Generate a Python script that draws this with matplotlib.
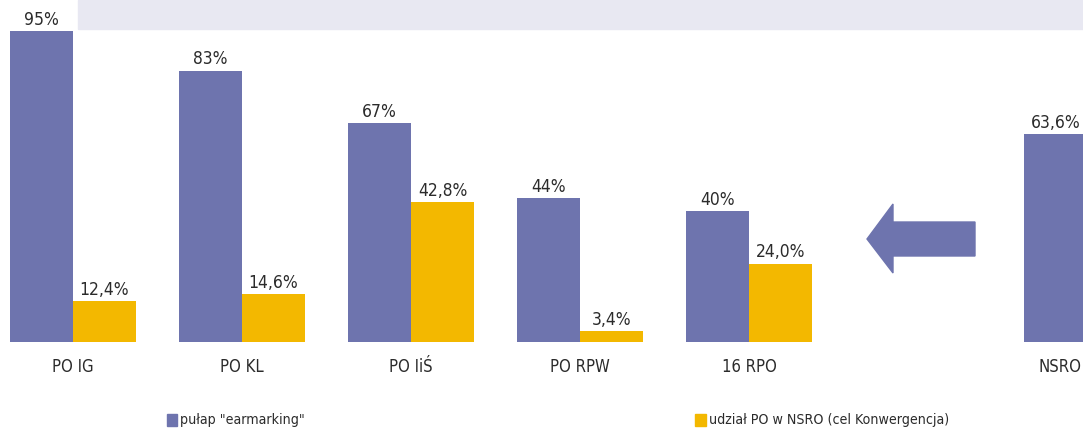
import matplotlib.pyplot as plt
from matplotlib.patches import Rectangle, Polygon
from matplotlib import font_manager

categories = ['PO IG', 'PO KL', 'PO IiŚ', 'PO RPW', '16 RPO']
earmarking = [95, 83, 67, 44, 40]
udzial = [12.4, 14.6, 42.8, 3.4, 24.0]
nsro_label = 'NSRO'
nsro_value = 63.6

# narrow font, the original uses a condensed face
cond = [f for f in font_manager.fontManager.ttflist
        if f.name == 'DejaVu Sans' and 'ondensed' in f.fname]
if cond:
    fp = dict(family=['DejaVu Sans'], stretch='condensed')
    fsz = 12.5
else:
    fp = dict(family=['Liberation Sans', 'DejaVu Sans'])
    fsz = 11.5

purple = '#6e74ae'
yellow = '#f3b800'
txt = '#2b2b2b'

fig = plt.figure(figsize=(10.83, 4.28), dpi=100)
# top band
fig.patches.append(Rectangle((78 / 1083, 1 - 29 / 428), 1, 29 / 428,
                             transform=fig.transFigure, color='#e8e8f2', zorder=0))

ax = fig.add_axes([0, 86 / 428, 1, 342 / 428])
w = 63 / 169
xs = list(range(len(categories)))

ax.bar([x - w / 2 for x in xs], earmarking, w, color=purple)
ax.bar([x + w / 2 for x in xs], udzial, w, color=yellow)
ax.bar(6 - w / 2, nsro_value, w, color=purple)

for x, v in zip(xs, earmarking):
    ax.text(x - w / 2, v + 0.7, '%d%%' % v, ha='center', va='bottom', fontsize=fsz, color=txt, **fp)
for x, v in zip(xs, udzial):
    ax.text(x + w / 2, v + 0.7, ('%.1f' % v).replace('.', ',') + '%',
            ha='center', va='bottom', fontsize=fsz, color=txt, **fp)
ax.text(6 - w / 2, nsro_value + 0.7, ('%.1f' % nsro_value).replace('.', ',') + '%',
        ha='center', va='bottom', fontsize=fsz, color=txt, **fp)

for x, c in zip(xs, categories):
    ax.text(x, -7.6, c, ha='center', va='center', fontsize=fsz - 0.5, color=txt, **fp)
ax.text((1060 - 73) / 169, -7.6, nsro_label, ha='center', va='center',
        fontsize=fsz - 0.5, color=txt, **fp)

# arrow pointing left
ppx = lambda p: (p - 73) / 169
ppy = lambda p: (342 - p) / 3.27
arrow = [(ppx(975), ppy(222)), (ppx(893), ppy(222)), (ppx(893), ppy(204)),
         (ppx(867), ppy(239)), (ppx(893), ppy(273)), (ppx(893), ppy(256)),
         (ppx(975), ppy(256))]
ax.add_patch(Polygon(arrow, closed=True, color=purple))

ax.set_xlim(-73 / 169, (1083 - 73) / 169)
ax.set_ylim(0, 342 / 3.27)
ax.axis('off')

# legend
fig.patches.append(Rectangle((167 / 1083, 2 / 428), 10 / 1083, 12 / 428,
                             transform=fig.transFigure, color=purple))
fig.text(180 / 1083, 8 / 428, 'pułap "earmarking"', va='center', ha='left',
         fontsize=fsz - 2.3, color=txt, **fp)
fig.patches.append(Rectangle((695 / 1083, 2 / 428), 11 / 1083, 12 / 428,
                             transform=fig.transFigure, color=yellow))
fig.text(709 / 1083, 8 / 428, 'udział PO w NSRO (cel Konwergencja)', va='center', ha='left',
         fontsize=fsz - 2.3, color=txt, **fp)

fig.savefig('out.png', dpi=100)
